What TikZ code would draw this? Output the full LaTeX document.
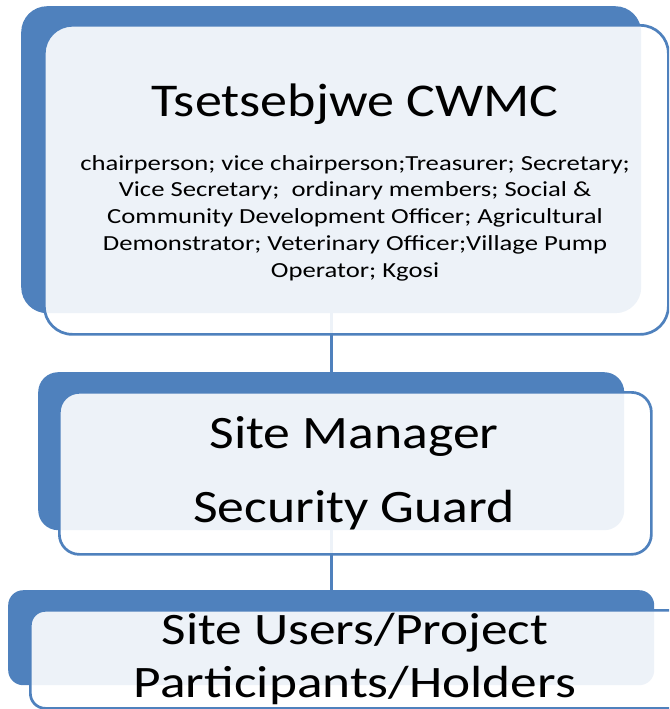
\documentclass[tikz,border=0pt]{standalone}
\usepackage{fontspec}
\setmainfont{Carlito}
\newfontfamily\titlefont{Carlito}[FakeStretch=1.15]
\newfontfamily\smallfont{Carlito}[FakeStretch=1.24]
\newfontfamily\midfont{Carlito}[FakeStretch=1.155]
\newfontfamily\lowfont{Carlito}[FakeStretch=1.185]
\definecolor{blu}{HTML}{4F81BD}
\tikzset{
  backbox/.style={fill=blu, draw=none, inner sep=0pt, anchor=north west},
  frontbox/.style={draw=blu, line width=2.7pt, fill=white, fill opacity=0.9, inner sep=0pt, anchor=north west},
  conn/.style={draw=blu, line width=3pt},
  txt/.style={anchor=base, inner sep=0pt, text=black},
}
\begin{document}
\begin{tikzpicture}[x=1pt,y=-1pt]
\useasboundingbox (0,0) rectangle (669,709);
\clip (0,0) rectangle (669,709);
% back boxes
\node[backbox, rounded corners=26pt, minimum width=620pt, minimum height=307pt] (b1) at (21,6) {};
\node[backbox, rounded corners=20pt, minimum width=586pt, minimum height=158pt] (b2) at (38,372) {};
\node[backbox, rounded corners=15pt, minimum width=646pt, minimum height=95pt] (b3) at (8,590) {};
% connectors
\draw[conn] (b1.south -| 331,0) -- (b2.north -| 331,0);
\draw[conn] (b2.south -| 331,0) -- (b3.north -| 331,0);
% front boxes
\node[frontbox, rounded corners=28pt, minimum width=624pt, minimum height=309pt] (f1) at (43,24) {};
\node[frontbox, rounded corners=20pt, minimum width=592pt, minimum height=162pt] (f2) at (58,391) {};
\node[frontbox, rounded corners=15pt, minimum width=680pt, minimum height=98pt] (f3) at (29,609) {};
% texts
\node[txt, font=\titlefont\fontsize{47}{57}\selectfont] (t1) at (355,116) {Tsetsebjwe CWMC};
\begin{scope}[every node/.style={txt, font=\smallfont\fontsize{21.5}{26}\selectfont}]
\node (m1) at (355,170) {chairperson; vice chairperson;Treasurer; Secretary;};
\node (m2) at (355,196.5) {Vice Secretary;\ \ ordinary members; Social \&};
\node (m3) at (355,223) {Community Development Officer; Agricultural};
\node (m4) at (355,250) {Demonstrator; Veterinary Officer;Village Pump};
\node (m5) at (355,277) {Operator; Kgosi};
\end{scope}
\node[txt, font=\midfont\fontsize{46.5}{56}\selectfont] (s1) at (354,448) {Site Manager};
\node[txt, font=\midfont\fontsize{46.5}{56}\selectfont] (s2) at (354,522) {Security Guard};
\node[txt, font=\lowfont\fontsize{45}{55}\selectfont] (u1) at (355,644) {Site Users/Project};
\node[txt, font=\lowfont\fontsize{45}{55}\selectfont] (u2) at (355,697) {Participants/Holders};
\end{tikzpicture}
\end{document}
